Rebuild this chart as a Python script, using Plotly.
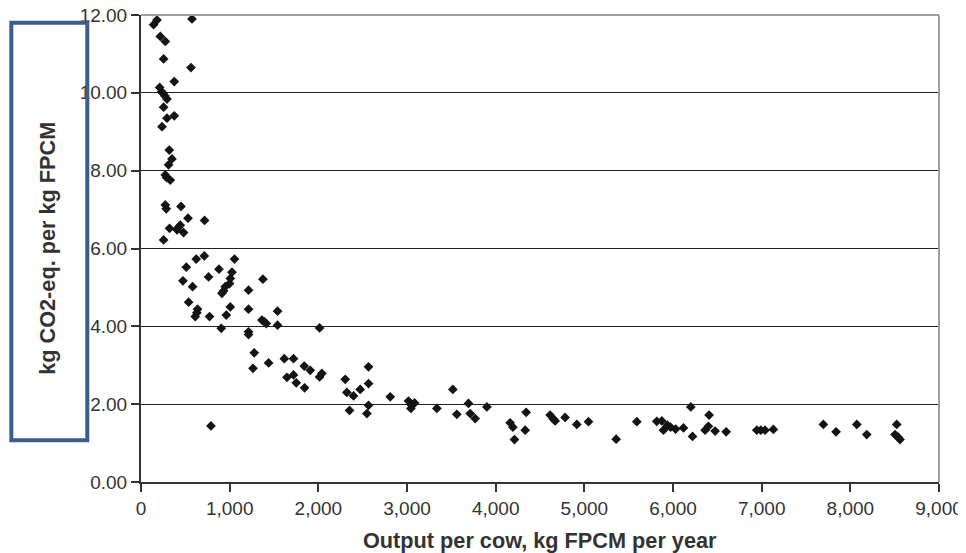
import plotly.graph_objects as go

output_per_cow = [
    142, 180, 575, 218, 274, 255, 564, 375, 210, 248, 293, 255, 375, 293, 237,
    319, 349, 311, 274, 330, 290, 274, 285, 451, 530, 717, 443, 322, 406, 480,
    425, 255, 232, 270,
    714, 623, 1055, 511, 879, 1026, 762, 1007, 473, 1375, 999, 582, 950, 931,
    1213, 913, 537, 638, 630, 1007, 1213, 1540, 612, 773, 962, 1364, 1413, 1390,
    1540, 905, 2014, 1213, 1213, 1277, 1616, 1720, 1439, 1841, 1909, 2040, 2014,
    1263, 1646, 1720, 1751, 1845, 789,
    2566, 2303, 2566, 2472, 2322, 2397, 2811, 2566, 2352, 2548, 3017, 3085, 3044,
    3050, 3337, 3517, 3562, 3693, 3713, 3769, 3901, 4163, 4194, 4212, 4344, 4333,
    4614, 4650, 4671, 4783, 4915,
    5047, 5359, 5592, 5817, 5874, 5892, 5937, 5972, 6029, 6118, 6201, 6220, 6362,
    6407, 6399, 6475, 6600, 6945, 6990, 7038, 7132, 7696, 7839, 8073, 8185, 8523,
    8504, 8540, 8560,
]
co2_per_kg = [
    11.75, 11.87, 11.90, 11.45, 11.32, 10.87, 10.65, 10.29, 10.14, 9.99, 9.84, 9.63, 9.41, 9.35, 9.13,
    8.53, 8.30, 8.15, 7.89, 7.76, 7.82, 7.12, 7.02, 7.08, 6.78, 6.72, 6.60, 6.52, 6.48, 6.41,
    6.55, 6.22, 10.03, 9.92,
    5.81, 5.73, 5.73, 5.52, 5.47, 5.39, 5.27, 5.23, 5.17, 5.21, 5.10, 5.02, 5.02, 4.91,
    4.93, 4.85, 4.62, 4.44, 4.35, 4.50, 4.44, 4.39, 4.25, 4.25, 4.29, 4.16, 4.07, 4.12,
    4.03, 3.95, 3.96, 3.86, 3.79, 3.32, 3.17, 3.17, 3.06, 2.98, 2.87, 2.79, 2.70,
    2.92, 2.69, 2.75, 2.55, 2.42, 1.44,
    2.96, 2.64, 2.53, 2.38, 2.30, 2.21, 2.19, 1.97, 1.84, 1.76, 2.08, 2.03, 1.89,
    1.98, 1.89, 2.38, 1.74, 2.02, 1.76, 1.63, 1.93, 1.52, 1.41, 1.09, 1.79, 1.33,
    1.72, 1.62, 1.57, 1.66, 1.48,
    1.55, 1.10, 1.55, 1.56, 1.57, 1.33, 1.46, 1.41, 1.36, 1.39, 1.93, 1.17, 1.33,
    1.72, 1.43, 1.31, 1.29, 1.33, 1.33, 1.33, 1.35, 1.48, 1.29, 1.48, 1.22, 1.48,
    1.22, 1.15, 1.09,
]

x_ticks = [0, 1000, 2000, 3000, 4000, 5000, 6000, 7000, 8000, 9000]
y_ticks = [0, 2, 4, 6, 8, 10, 12]
x_title = "Output per cow, kg FPCM per year"
y_title = "kg CO2-eq. per kg FPCM"

FONT = "Liberation Sans, Arial, sans-serif"

fig = go.Figure()
fig.add_trace(go.Scatter(
    x=output_per_cow, y=co2_per_kg, mode="markers",
    marker=dict(symbol="diamond", size=7.5, color="#141414", line=dict(width=0)),
    showlegend=False, cliponaxis=False,
))

# page has an 8px body margin, so the figure is 8px smaller and margins shifted
fig.update_layout(
    width=958, height=545,
    margin=dict(l=133, r=27, t=7, b=71, autoexpand=False),
    paper_bgcolor="white", plot_bgcolor="white",
    font=dict(family=FONT, color="#333333"),
    xaxis=dict(
        range=[0, 9000], tickvals=x_ticks, tickformat=",d", automargin=False,
        ticklabeloverflow="allow",
        showgrid=False, zeroline=False,
        showline=True, linecolor="#333333", linewidth=2,
        ticks="outside", ticklen=8, tickwidth=1.5, tickcolor="#333333",
        tickfont=dict(size=19, family=FONT, color="#333333"),
    ),
    yaxis=dict(
        range=[0, 12], tickvals=y_ticks, tickformat=".2f", automargin=False,
        ticklabeloverflow="allow",
        showgrid=True, gridcolor="#222222", gridwidth=1.4, zeroline=False,
        showline=True, linecolor="#333333", linewidth=2,
        ticks="outside", ticklen=8, tickwidth=1.5, tickcolor="#333333",
        tickfont=dict(size=19, family=FONT, color="#333333"),
    ),
    shapes=[
        dict(type="line", xref="paper", yref="paper", x0=0, x1=1, y0=1, y1=1,
             line=dict(color="#a0a0a0", width=2)),
        dict(type="line", xref="paper", yref="paper", x0=1, x1=1, y0=0, y1=1,
             line=dict(color="#a0a0a0", width=2)),
        dict(type="rect", xref="paper", yref="paper",
             x0=-0.1625, x1=-0.0673, y0=0.0894, y1=0.9835,
             line=dict(color="#3a5d8a", width=4), fillcolor="rgba(0,0,0,0)"),
    ],
    annotations=[
        dict(text="<b>%s</b>" % x_title, xref="paper", yref="paper",
             x=0.4995, y=-0.125, xanchor="center", yanchor="middle",
             showarrow=False, font=dict(size=21.7, family=FONT, color="#333333")),
        dict(text="<b>%s</b>" % y_title, xref="paper", yref="paper",
             x=-0.1174, y=0.5, xanchor="center", yanchor="middle", textangle=-90,
             showarrow=False, font=dict(size=21.7, family=FONT, color="#333333")),
    ],
)

fig.write_html("out.html")
